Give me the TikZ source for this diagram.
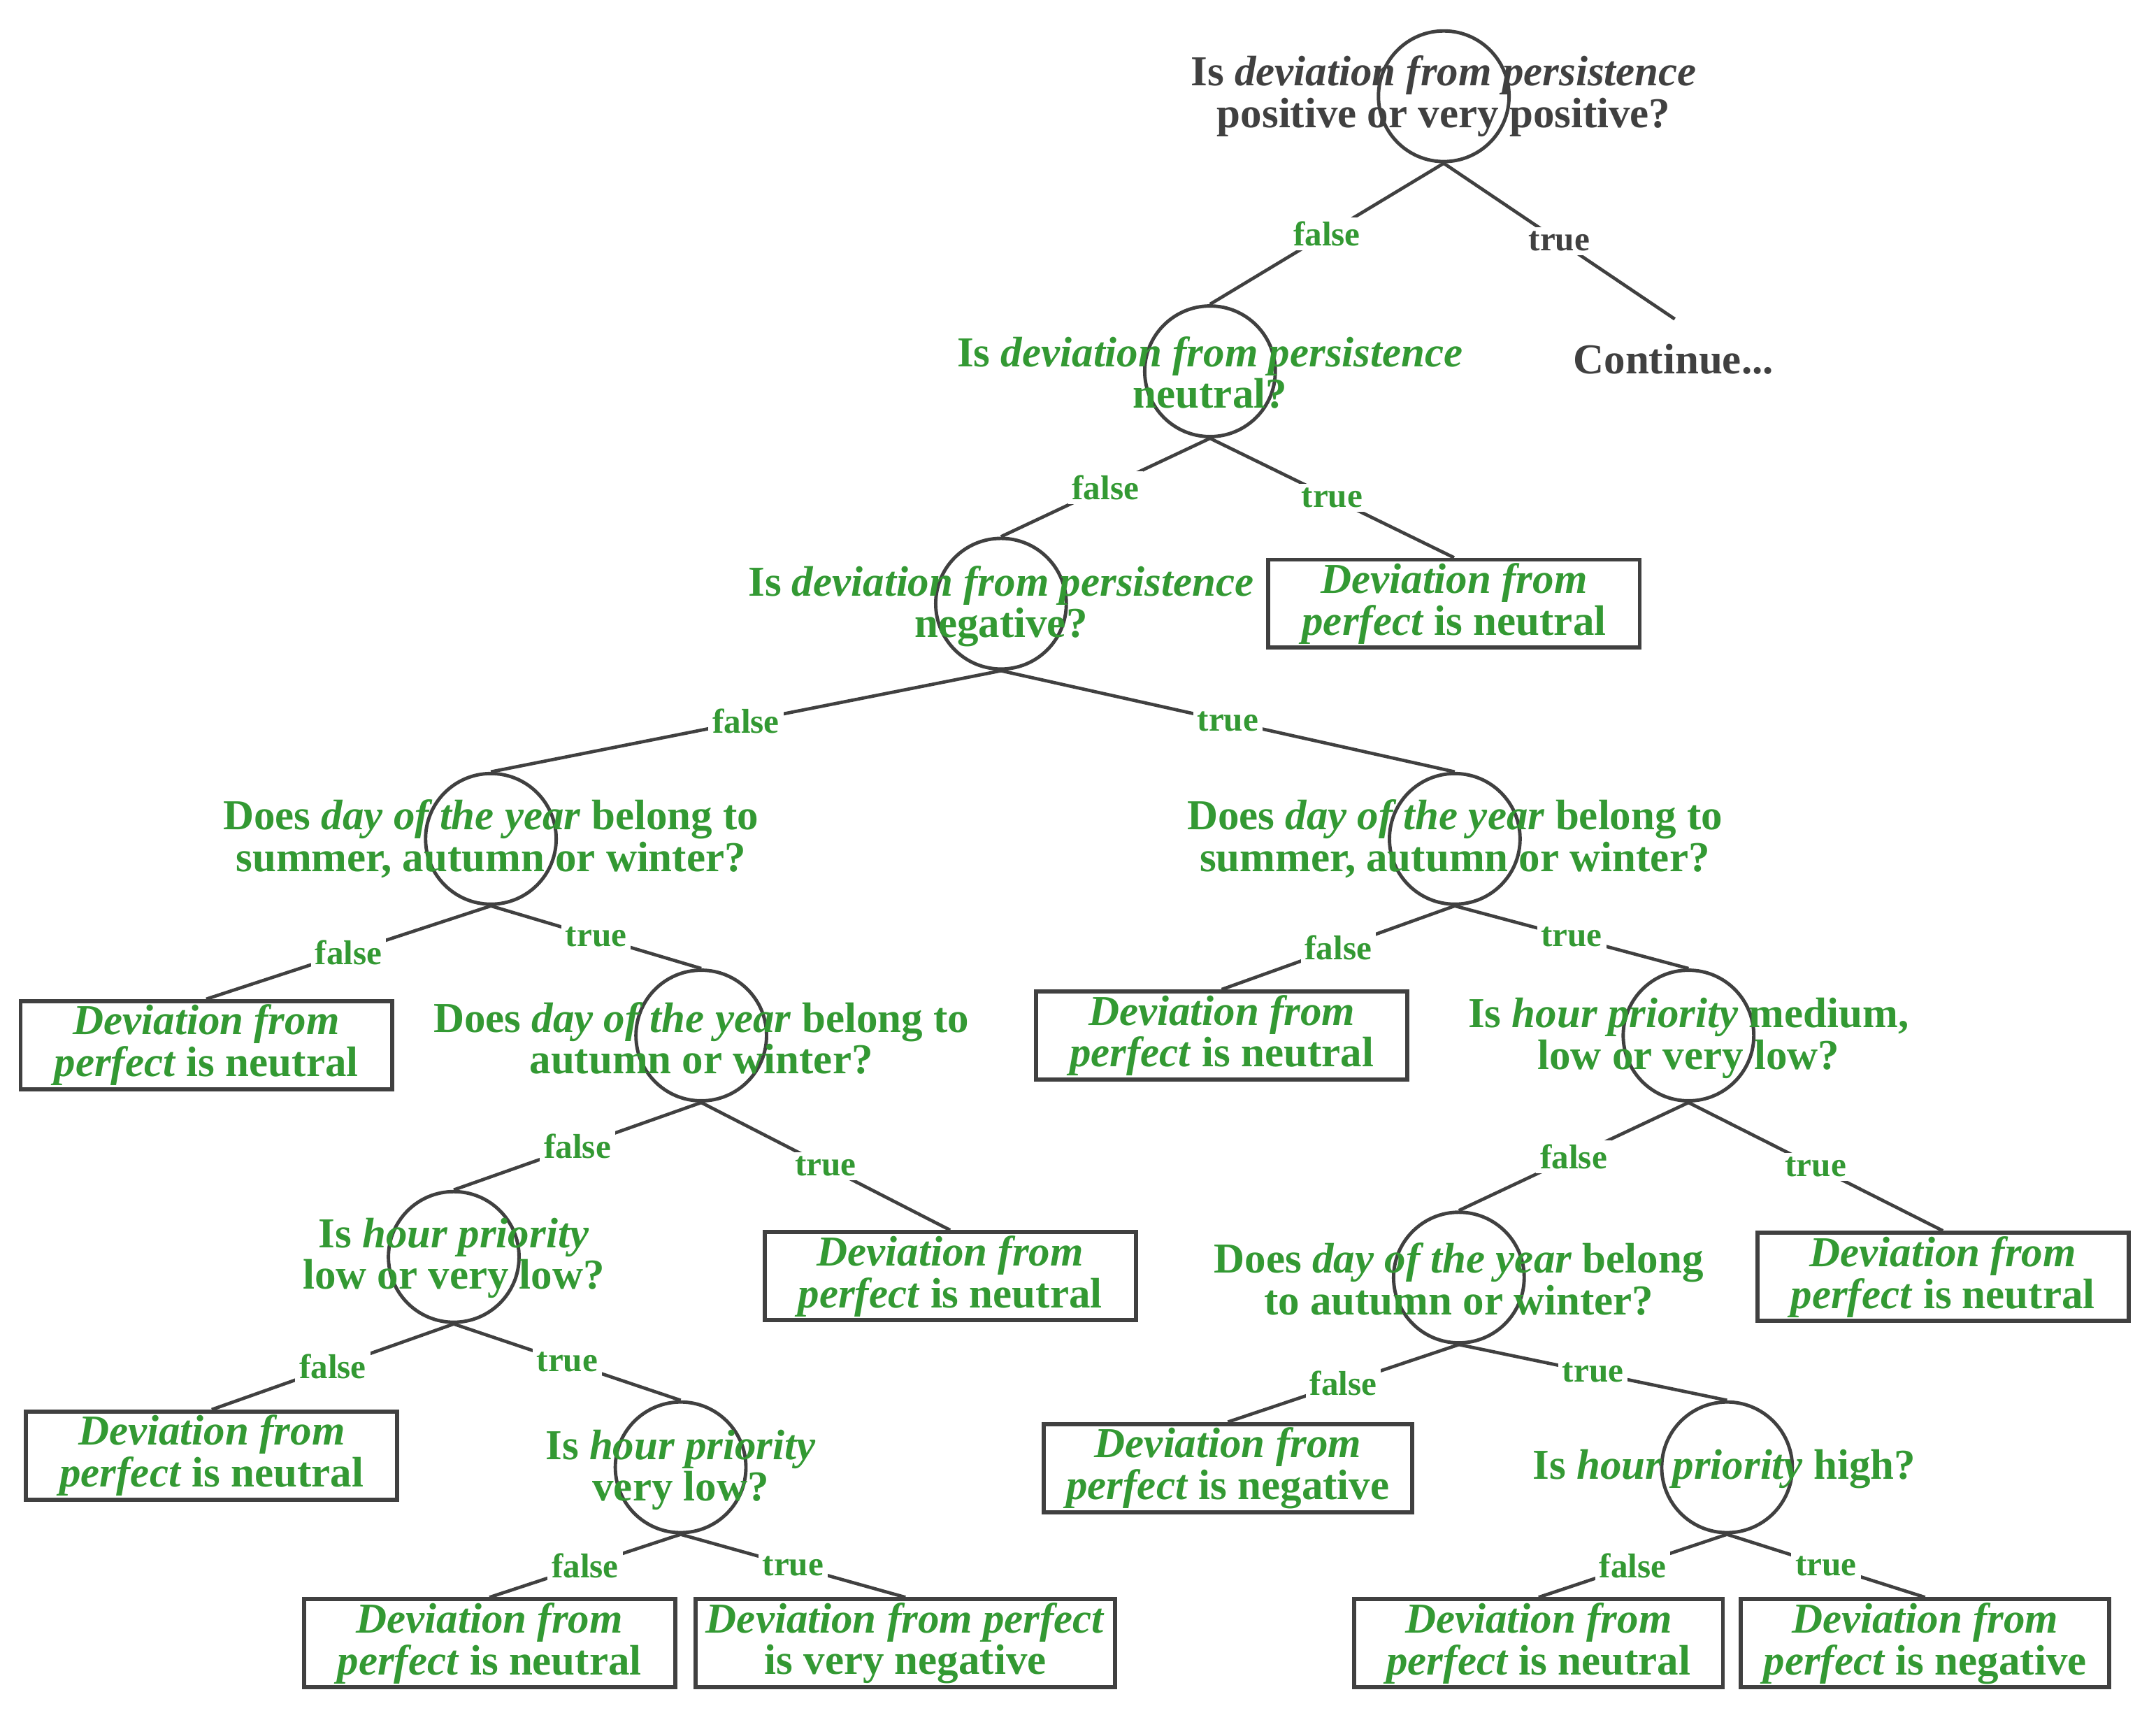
\documentclass[tikz,border=0pt]{standalone}
\usepackage{fontspec}
\setmainfont{Liberation Serif}
\definecolor{grn}{RGB}{51,153,51}
\definecolor{drk}{RGB}{64,64,64}
\begin{document}
\begin{tikzpicture}[x=0.5pt,y=-0.5pt,
  q/.style={circle, draw=drk, line width=1.25pt, minimum size=47.5pt, inner sep=0pt},
  qt/.style={text=grn, font=\bfseries\fontsize{15.5}{13.7}\selectfont, align=center, inner sep=0pt},
  leaf/.style={draw=drk, line width=1.5pt, minimum width=135pt, minimum height=32pt, inner sep=0pt,
    text=grn, font=\bfseries\fontsize{15.5}{13.7}\selectfont, align=center},
  lab/.style={fill=white, text=grn, font=\bfseries\fontsize{12.5}{12.5}\selectfont, inner sep=1.5pt},
  con/.style={draw=drk, line width=1.2pt}]
\useasboundingbox (0,0) rectangle (1568,1250.7);
% question circles
\node[q] (n1) at (1050,70) {};
\node[q] (n2) at (880,270) {};
\node[q] (n3) at (728,439) {};
\node[q] (n4) at (357,610) {};
\node[q] (n5) at (1058,610) {};
\node[q] (n6) at (510,753) {};
\node[q] (n7) at (330,914) {};
\node[q] (n8) at (495,1067) {};
\node[q] (n9) at (1228,753) {};
\node[q] (n10) at (1061,929) {};
\node[q] (n11) at (1256,1067) {};
% question texts
\node[qt, text=drk] (t1) at (1050,70) {Is \textit{deviation from persistence}\\positive or very positive?};
\node[qt] (t2) at (880,271) {Is \textit{deviation from persistence}\\neutral?};
\node[qt] (t3) at (728,441) {Is \textit{deviation from persistence}\\negative?};
\node[qt] (t4) at (357,610) {Does \textit{day of the year} belong to\\summer, autumn or winter?};
\node[qt] (t5) at (1058,610) {Does \textit{day of the year} belong to\\summer, autumn or winter?};
\node[qt] (t6) at (510,755) {Does \textit{day of the year} belong to\\autumn or winter?};
\node[qt] (t7) at (330,915) {Is \textit{hour priority}\\low or very low?};
\node[qt] (t8) at (495,1069) {Is \textit{hour priority}\\very low?};
\node[qt] (t9) at (1228,755) {Is \textit{hour priority} medium,\\low or very low?};
\node[qt] (t10) at (1061,930) {Does \textit{day of the year} belong\\to autumn or winter?};
\node[qt] (t11) at (1254,1068) {Is \textit{hour priority} high?};
\node[qt, text=drk] (cont) at (1217,261) {Continue...};
\coordinate (contTop) at (1218,232);
% leaves
\node[leaf] (b1) at (1057.5,439) {\textit{Deviation from}\\\textit{perfect} is neutral};
\node[leaf] (b2) at (150,760) {\textit{Deviation from}\\\textit{perfect} is neutral};
\node[leaf] (b3) at (691,928) {\textit{Deviation from}\\\textit{perfect} is neutral};
\node[leaf] (b4) at (154,1058.5) {\textit{Deviation from}\\\textit{perfect} is neutral};
\node[leaf] (b5) at (356,1195) {\textit{Deviation from}\\\textit{perfect} is neutral};
\node[leaf, minimum width=152.5pt] (b6) at (658.5,1195) {\textit{Deviation from perfect}\\is very negative};
\node[leaf] (b7) at (888.5,753) {\textit{Deviation from}\\\textit{perfect} is neutral};
\node[leaf] (b8) at (1413,928.5) {\textit{Deviation from}\\\textit{perfect} is neutral};
\node[leaf, minimum width=134pt] (b9) at (893,1067.5) {\textit{Deviation from}\\\textit{perfect} is negative};
\node[leaf, minimum width=134pt] (b10) at (1119,1195) {\textit{Deviation from}\\\textit{perfect} is neutral};
\node[leaf, minimum width=134pt] (b11) at (1400,1195) {\textit{Deviation from}\\\textit{perfect} is negative};
% connectors
\draw[con] (n1.south) -- node[lab] (l1f) {false} (n2.north);
\draw[con] (n1.south) -- node[lab, text=drk] (l1t) {true} (contTop);
\draw[con] (n2.south) -- node[lab] (l2f) {false} (n3.north);
\draw[con] (n2.south) -- node[lab] (l2t) {true} (b1.north);
\draw[con] (n3.south) -- node[lab] (l3f) {false} (n4.north);
\draw[con] (n3.south) -- node[lab] (l3t) {true} (n5.north);
\draw[con] (n4.south) -- node[lab] (l4f) {false} (b2.north);
\draw[con] (n4.south) -- node[lab] (l4t) {true} (n6.north);
\draw[con] (n6.south) -- node[lab] (l6f) {false} (n7.north);
\draw[con] (n6.south) -- node[lab] (l6t) {true} (b3.north);
\draw[con] (n7.south) -- node[lab] (l7f) {false} (b4.north);
\draw[con] (n7.south) -- node[lab] (l7t) {true} (n8.north);
\draw[con] (n8.south) -- node[lab] (l8f) {false} (b5.north);
\draw[con] (n8.south) -- node[lab] (l8t) {true} (b6.north);
\draw[con] (n5.south) -- node[lab] (l5f) {false} (b7.north);
\draw[con] (n5.south) -- node[lab] (l5t) {true} (n9.north);
\draw[con] (n9.south) -- node[lab] (l9f) {false} (n10.north);
\draw[con] (n9.south) -- node[lab] (l9t) {true} (b8.north);
\draw[con] (n10.south) -- node[lab] (l10f) {false} (b9.north);
\draw[con] (n10.south) -- node[lab] (l10t) {true} (n11.north);
\draw[con] (n11.south) -- node[lab] (l11f) {false} (b10.north);
\draw[con] (n11.south) -- node[lab] (l11t) {true} (b11.north);
\end{tikzpicture}
\end{document}
